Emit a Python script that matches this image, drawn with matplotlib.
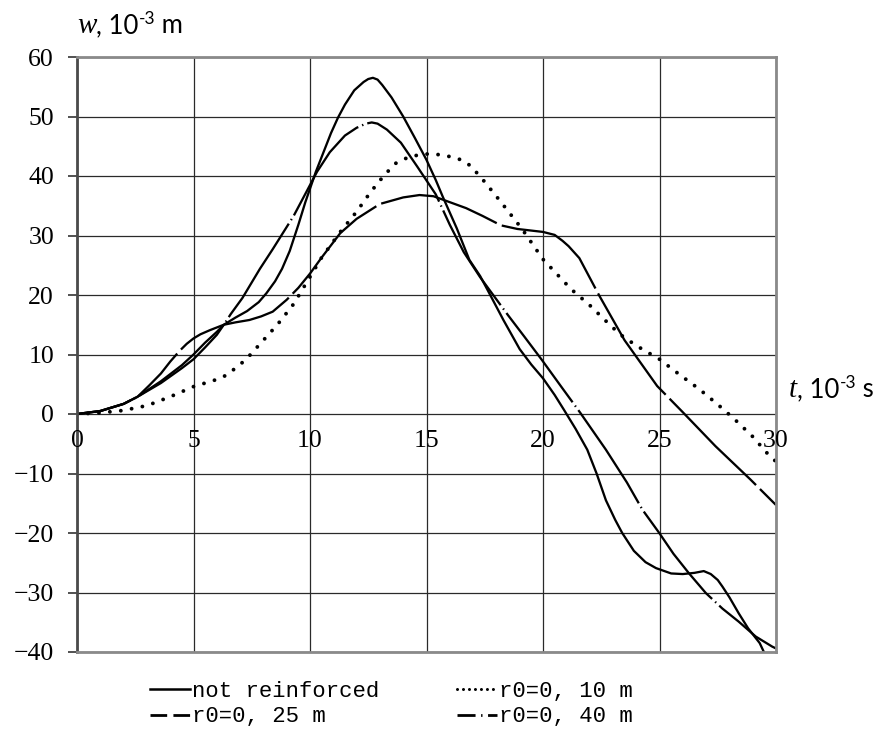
import matplotlib
matplotlib.use("Agg")
import matplotlib.pyplot as plt
from matplotlib.lines import Line2D

plt.rcParams['lines.scale_dashes'] = False

# ---------------- data ----------------
t_not = [0, 1, 2, 2.6, 3.6, 4.5, 5, 5.5, 6, 6.3, 6.8, 7.3, 7.8, 8.13, 8.5, 8.8, 9.13, 9.5, 9.8, 10.25, 10.6,
         10.9, 11.2, 11.5, 11.9, 12.3, 12.5, 12.7, 12.9, 13.1, 13.5, 14, 14.5, 15, 15.4, 15.7, 16.3, 16.84,
         17.3, 17.6, 18.3, 19, 19.5, 20, 20.5, 20.9, 21.4, 21.9, 22.3, 22.7, 23.1, 23.4, 23.9, 24.4, 24.85,
         25.5, 26, 26.5, 26.9, 27.2, 27.5, 27.7, 28, 28.4, 28.8, 29.3, 29.6, 30]
w_not = [0, 0.5, 1.7, 2.9, 5.5, 8.2, 10, 12, 13.8, 15, 16.2, 17.3, 18.8, 20.3, 22.3, 24.4, 27.4, 31.8, 35.6, 40.7, 44.2,
         47.2, 49.8, 52, 54.4, 55.8, 56.3, 56.5, 56.2, 55.3, 53.2, 50, 46.4, 42.7, 39.3, 36.5, 31.2, 25.9,
         23.2, 21, 15.8, 10.9, 8.3, 6, 3.2, 0.7, -2.5, -6, -10, -14.5, -17.8, -20, -23, -24.9, -25.9,
         -26.8, -26.9, -26.7, -26.4, -26.9, -27.9, -29, -30.8, -33.5, -36, -38.5, -41, -44]

t_r10 = [0, 1, 2, 2.6, 3, 4, 5, 6, 6.4, 7, 7.4, 8.3, 8.7, 9.3, 9.9, 10.5, 11.3, 12, 12.6, 13.2, 13.7, 14.3, 15,
         15.5, 16.1, 16.5, 16.9, 17.5, 18.2, 19.1, 20, 21.2, 22, 22.6, 23.3, 24, 25, 25.8, 26.7, 27.5, 28.2,
         29, 29.6, 30]
w_r10 = [0, 0.2, 0.6, 1.1, 1.4, 2.9, 4.6, 5.8, 6.5, 8.3, 9.8, 13.7, 15.5, 18.5, 22.4, 26.3, 30.6, 34, 37.3, 40.2, 42.2,
         43.3, 43.7, 43.6, 43.2, 42.7, 41.7, 39, 35.6, 31.1, 26, 21, 18.3, 16, 13.4, 11.5, 9.2, 6.8, 4.2,
         1.6, -0.8, -3.8, -6.5, -8]

t_r25 = [0, 1, 2, 2.6, 3.1, 3.6, 4, 4.4, 4.71, 5, 5.3, 5.71, 6.3, 6.8, 7.4, 7.9, 8.4, 9, 9.5, 10, 10.5, 11.3,
         12, 13, 14, 14.7, 15.3, 16, 16.7, 17.4, 18.2, 18.9, 20, 20.5, 20.84, 21.1, 21.56, 22.4, 23.5, 24.5,
         24.9, 26, 27.4, 28.9, 30]
w_r25 = [0, 0.5, 1.7, 2.9, 4.8, 6.8, 8.8, 10.6, 11.8, 12.7, 13.4, 14.1, 15, 15.4, 15.8, 16.4, 17.2, 19.2, 21.2, 23.6,
         26.3, 30.4, 32.8, 35.3, 36.4, 36.8, 36.6, 35.6, 34.6, 33.3, 31.7, 31.1, 30.6, 30.1, 29.1, 28.2,
         26.2, 20, 12.4, 6.9, 4.7, 0.3, -5.4, -11, -15.3]

t_r40 = [0, 1, 2, 2.6, 3.6, 4.5, 5, 5.5, 6, 6.3, 6.6, 7.1, 7.85, 8.4, 9.3, 10.3, 10.85, 11.5, 12, 12.4, 12.65,
         12.9, 13.3, 13.9, 14.6, 15.4, 16, 16.6, 17.3, 18.5, 19.2, 19.95, 20.8, 21.6, 22.7, 23.6, 24.27,
         24.99, 25.6, 26.27, 26.99, 27.7, 28.4, 29.13, 29.84, 30]
w_r40 = [0, 0.5, 1.7, 2.9, 5.2, 7.7, 9.2, 11.2, 13.3, 15, 16.8, 19.5, 24.4, 27.7, 33.3, 40.7, 44, 46.8, 48.1, 48.8, 49,
         48.8, 47.8, 45.6, 41.6, 36.9, 31.8, 27.2, 23, 16.6, 13, 9.1, 4.5, 0.2, -6, -11.5, -16.1,
         -20, -23.5, -26.8, -30.1, -32.7, -34.9, -37.4, -39.1, -39.4]

labels = ["not reinforced", "r0=0, 10 m", "r0=0, 25 m", "r0=0, 40 m"]
x_ticks = [0, 5, 10, 15, 20, 25, 30]
y_ticks = [-40, -30, -20, -10, 0, 10, 20, 30, 40, 50, 60]
x_label_parts = ["t", ", 10", "-3", " s"]
y_label_parts = ["w", ", 10", "-3", " m"]

# ---------------- figure ----------------
W, H = 882, 738
fig = plt.figure(figsize=(W / 100, H / 100), dpi=100)
ax = fig.add_axes([77 / W, 1 - 652 / H, (776 - 77) / W, (652 - 57) / H])
ax.set_xlim(0, 30)
ax.set_ylim(-40, 60)

tick_font = dict(family='Liberation Serif', size=18.5)
ax.set_xticks(x_ticks)
ax.set_yticks(y_ticks)
ax.set_xticklabels([])
ax.set_yticklabels([str(v).replace('-', '\u2212') for v in y_ticks], fontdict=tick_font)
ax.tick_params(axis='x', length=0)
ax.tick_params(axis='y', length=6.5, width=1.2, color='#333333', pad=10)
ax.grid(True, color='#2a2a2a', linewidth=0.9)
ax.set_axisbelow(True)
for side, sp in ax.spines.items():
    sp.set_linewidth(2.0)
    sp.set_color('#8a8a8a')
ax.spines['left'].set_color('#4a4a4a')

# x tick labels sit on the zero line
for v in x_ticks:
    ax.annotate(str(v), xy=(v, 0), xytext=(0, -19.5), textcoords='offset points',
                ha='center', va='center', fontfamily='Liberation Serif', fontsize=18.5,
                annotation_clip=False)

lw = 1.65
ax.plot(t_not, w_not, color='black', lw=lw, solid_joinstyle='round')
ax.plot(t_r10, w_r10, color='black', lw=2.8, linestyle=(0, (0.01, 7.9)),
        dash_capstyle='round')
ax.plot(t_r25, w_r25, color='black', lw=lw, linestyle=(0, (88, 4)), dash_joinstyle='round')
ax.plot(t_r40, w_r40, color='black', lw=lw, linestyle=(40, (80, 3, 1, 3)), dash_joinstyle='round')


# axis titles, assembled piece by piece on a common baseline
def label(parts, x_px, base_px):
    renderer = fig.canvas.get_renderer()
    x = x_px
    styles = [dict(family='Liberation Serif', style='italic', size=21, dy=0),
              dict(family='Lato', style='normal', size=18.5, dy=0),
              dict(family='Lato', style='normal', size=12.5, dy=8.5),
              dict(family='Lato', style='normal', size=18.5, dy=0)]
    for part, st in zip(parts, styles):
        txt = fig.text(x / W, 1 - (base_px - st['dy']) / H, part, fontfamily=st['family'],
                       fontstyle=st['style'], fontsize=st['size'], va='baseline', ha='left')
        bb = txt.get_window_extent(renderer)
        x = bb.x1


label(y_label_parts, 77, 33)
label(x_label_parts, 789, 397)

# legend
handles = [
    Line2D([], [], color='black', lw=1.8),
    Line2D([], [], color='black', lw=2.2, linestyle=(0, (0.01, 4.3)), dash_capstyle='round'),
    Line2D([], [], color='black', lw=2.0, linestyle=(0, (12, 4.5))),
    Line2D([], [], color='black', lw=2.0, linestyle=(0, (13, 4, 1, 4))),
]
order = [0, 2, 1, 3]
fig.legend([handles[i] for i in order], [labels[i] for i in order], ncol=2,
           loc='upper left', bbox_to_anchor=(150 / W, 1 - 681 / H),
           frameon=False, prop=dict(family='Liberation Mono', size=16),
           handlelength=1.8, handletextpad=0.1, columnspacing=3.5,
           labelspacing=0.2, borderpad=0, borderaxespad=0)

fig.savefig('out.png', dpi=100)
